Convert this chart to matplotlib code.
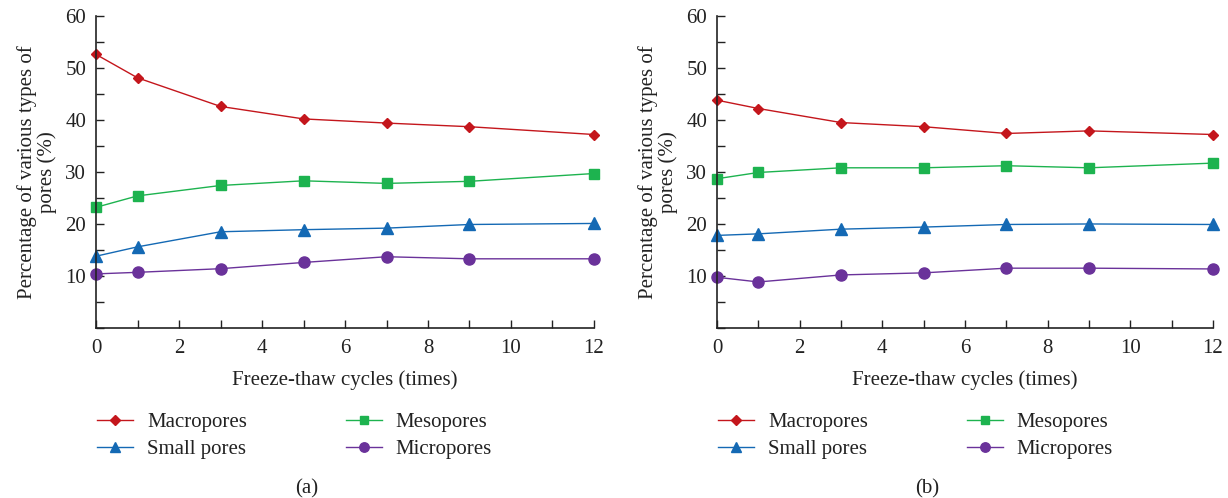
import numpy as np
import matplotlib
matplotlib.use('Agg')
import matplotlib.pyplot as plt

plt.rcParams['font.family'] = ['Liberation Serif', 'DejaVu Serif']

cycles = [0, 1, 3, 5, 7, 9, 12]
names = ['Macropores', 'Mesopores', 'Small pores', 'Micropores']

# panel (a)
macro_a = [52.6, 48.1, 42.6, 40.2, 39.4, 38.7, 37.2]
meso_a = [23.2, 25.4, 27.4, 28.3, 27.8, 28.2, 29.7]
small_a = [13.8, 15.6, 18.5, 18.9, 19.2, 19.9, 20.1]
micro_a = [10.4, 10.7, 11.4, 12.6, 13.7, 13.3, 13.3]

# panel (b)
macro_b = [43.8, 42.2, 39.5, 38.7, 37.4, 37.9, 37.2]
meso_b = [28.7, 29.9, 30.8, 30.8, 31.2, 30.8, 31.7]
small_b = [17.8, 18.1, 19.0, 19.4, 19.9, 20.0, 19.9]
micro_b = [9.75, 8.85, 10.2, 10.6, 11.5, 11.5, 11.35]

colors = {'Macropores': '#c4161c', 'Mesopores': '#1db34f',
          'Small pores': '#1469b4', 'Micropores': '#6a329a'}
markers = {'Macropores': ('D', 5.5), 'Mesopores': ('s', 7.5),
           'Small pores': ('^', 8), 'Micropores': ('o', 8)}

FS = 15

fig = plt.figure(figsize=(12.28, 4.98), dpi=100)
axa = fig.add_axes([0.0782, 0.3414, 0.4055, 0.6266])
axb = fig.add_axes([0.5839, 0.3414, 0.4039, 0.6266])


def draw(ax, data, tag, cap_x):
    handles = {}
    for name, vals in data:
        m, ms = markers[name]
        h, = ax.plot(cycles, vals, color=colors[name], lw=1.0,
                     marker=m, ms=ms, label=name, clip_on=False)
        handles[name] = h
    ax.set_xlim(0, 12)
    ax.set_ylim(0, 60)
    ax.set_xticks(np.arange(0, 13, 2))
    ax.set_xticks(np.arange(0, 13, 1), minor=True)
    ax.set_yticks(np.arange(10, 61, 10))
    ax.set_yticks(np.arange(0, 61, 5), minor=True)
    ax.tick_params(which='both', direction='in', length=6, width=1,
                   labelsize=FS, color='#222222', labelcolor='#222222')
    ax.tick_params(axis='x', pad=8)
    ax.tick_params(axis='y', pad=7)
    for s in ['top', 'right']:
        ax.spines[s].set_visible(False)
    for s in ['left', 'bottom']:
        ax.spines[s].set_linewidth(1.2)
        ax.spines[s].set_color('#222222')
    ax.set_xlabel('Freeze-thaw cycles (times)', fontsize=FS, labelpad=9,
                  color='#222222')
    ax.set_ylabel('Percentage of various types of\npores (%)',
                  fontsize=FS, labelpad=6, color='#222222',
                  linespacing=1.05)
    order = ['Macropores', 'Small pores', 'Mesopores', 'Micropores']
    ax.legend([handles[n] for n in order], order, loc='upper left',
              bbox_to_anchor=(0.002, -0.271), ncol=2, frameon=False,
              fontsize=FS, handlelength=1.75, handletextpad=0.65,
              columnspacing=4.75, labelspacing=0.35, markerscale=0.85,
              borderpad=0, borderaxespad=0, labelcolor='#222222')
    fig.text(cap_x, 0.01, tag, fontsize=FS, ha='center', color='#222222')


draw(axa, [('Macropores', macro_a), ('Mesopores', meso_a),
           ('Small pores', small_a), ('Micropores', micro_a)], '(a)', 0.25)
draw(axb, [('Macropores', macro_b), ('Mesopores', meso_b),
           ('Small pores', small_b), ('Micropores', micro_b)], '(b)', 0.755)

fig.savefig('out.png', dpi=100)
